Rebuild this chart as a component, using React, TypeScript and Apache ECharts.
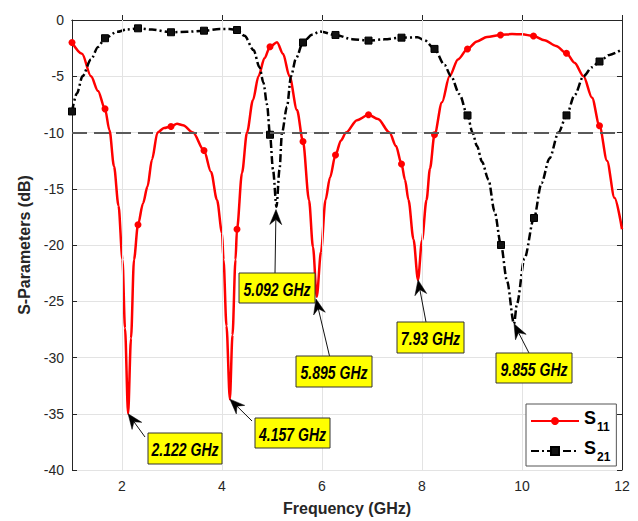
import React, { useEffect, useRef } from 'react';
import * as echarts from 'echarts';

// ---------------- data ----------------
const FREQ_S11 = [
  1.0, 1.2, 1.38, 1.52, 1.66, 1.75, 1.84, 1.93, 2.01, 2.06, 2.122, 2.18, 2.24, 2.32, 2.42, 2.51,
  2.6, 2.71, 2.84, 2.98, 3.1, 3.22, 3.42, 3.64, 3.78, 3.9, 4.0, 4.03, 4.09, 4.157, 4.21, 4.27,
  4.3, 4.4, 4.5, 4.62, 4.73, 4.85, 4.96, 5.1, 5.22, 5.35, 5.5, 5.62, 5.74, 5.82, 5.895, 5.98,
  6.07, 6.16, 6.27, 6.38, 6.48, 6.7, 6.93, 7.12, 7.35, 7.48, 7.59, 7.66, 7.73, 7.83, 7.92, 8.0,
  8.09, 8.16, 8.25, 8.4, 8.55, 8.72, 8.91, 9.1, 9.3, 9.57, 9.8, 10.0, 10.23, 10.45, 10.68, 10.89,
  11.05, 11.23, 11.4, 11.55, 11.7, 11.85, 12.0,
];
const S11_DB = [
  -2.0, -3.0, -5.0, -6.3, -7.9, -9.8, -13.0, -16.5, -21.3, -27.4, -35.0, -28.3, -21.3, -18.2, -16.3, -14.8,
  -12.4, -10.0, -9.6, -9.46, -9.22, -9.35, -10.0, -11.6, -13.5, -16.0, -18.9, -21.3, -27.2, -33.7, -28.0, -21.3,
  -18.6, -13.6, -10.0, -7.1, -5.0, -3.4, -2.37, -1.98, -3.0, -5.0, -8.0, -10.8, -16.0, -20.2, -24.6, -20.6,
  -16.0, -14.0, -12.0, -10.7, -10.0, -8.9, -8.42, -8.8, -10.0, -11.2, -12.8, -14.2, -16.0, -19.5, -23.1, -19.6,
  -16.0, -13.2, -10.2, -7.3, -5.0, -3.5, -2.57, -1.9, -1.5, -1.33, -1.25, -1.27, -1.42, -1.8, -2.3, -2.95,
  -3.8, -5.0, -6.9, -9.4, -12.5, -15.8, -18.6,
];
const FREQ_S21 = [
  1.0, 1.1, 1.21, 1.38, 1.52, 1.66, 1.9, 2.1, 2.32, 2.6, 2.98, 3.3, 3.64, 3.95, 4.15, 4.3,
  4.45, 4.63, 4.75, 4.83, 4.9, 4.96, 5.02, 5.09, 5.15, 5.2, 5.3, 5.38, 5.48, 5.62, 5.8, 5.96,
  6.27, 6.6, 6.93, 7.25, 7.59, 7.91, 8.05, 8.25, 8.45, 8.58, 8.75, 8.91, 9.01, 9.1, 9.2, 9.33,
  9.45, 9.58, 9.7, 9.84, 9.9, 10.05, 10.24, 10.39, 10.55, 10.73, 10.89, 11.05, 11.23, 11.4, 11.55, 11.75,
  12.0,
];
const S21_DB = [
  -8.13, -6.5, -5.0, -3.5, -2.4, -1.62, -1.05, -0.85, -0.74, -0.85, -1.09, -1.05, -0.95, -0.8, -0.8, -0.89,
  -1.4, -2.66, -4.2, -5.6, -7.5, -10.2, -13.3, -16.6, -13.3, -10.0, -7.7, -5.0, -3.4, -2.0, -1.3, -1.03,
  -1.33, -1.7, -1.83, -1.72, -1.57, -1.54, -1.8, -2.57, -4.0, -5.0, -6.6, -8.48, -10.0, -11.2, -12.6, -14.2,
  -17.0, -20.0, -23.2, -27.0, -25.2, -21.2, -17.6, -14.5, -12.3, -10.0, -8.48, -6.7, -5.0, -4.2, -3.69, -3.1,
  -2.6,
];
const MARKER_FREQS = [1.0, 1.66, 2.32, 2.98, 3.64, 4.3, 4.96, 5.62, 6.27, 6.93, 7.59, 8.25, 8.91, 9.57, 10.23, 10.89, 11.55];
const S21_MARKER_FREQS = [1.0, 1.66, 2.32, 2.98, 3.64, 4.3, 4.96, 5.62, 6.27, 6.93, 7.59, 8.25, 8.91, 9.58, 10.24, 10.89, 11.55];
const X_TICKS = [2, 4, 6, 8, 10, 12];
const THRESHOLD_DB = -10;

const RESONANCE_LABELS = ['2.122 GHz', '4.157 GHz', '5.092 GHz', '5.895 GHz', '7.93 GHz', '9.855 GHz'];
const RESONANCE_FREQ = [2.122, 4.157, 5.08, 5.88, 7.92, 9.84];
const RESONANCE_DB = [-35.0, -33.7, -16.85, -24.8, -23.1, -27.0];

// label box layout in pixels: [left, top, width, height, tailX, tailY]
const BOX_LAYOUT = [
  [148, 433, 74, 31, 145, 437],
  [255, 418, 75, 30, 252, 421],
  [239, 273, 76, 30, 275, 273],
  [296, 356, 76, 31, 329.5, 356],
  [397, 322, 67, 31, 426, 322],
  [496, 353, 76, 30, 529, 353],
];

const SANS = '"Liberation Sans", Arial, Helvetica, sans-serif';
const AXIS_COLOR = '#262626';
const GRID_COLOR = '#e3e3e3';

function buildData(freqs: number[], vals: number[], markers: number[]) {
  return freqs.map((f, i) => {
    const isMarker = markers.some((m) => Math.abs(m - f) < 1e-6);
    return isMarker ? { value: [f, vals[i]] } : { value: [f, vals[i]], symbol: 'none' };
  });
}

export default function App() {
  const ref = useRef<HTMLDivElement>(null);
  useEffect(() => {
    document.body.style.margin = '0';
    if (!ref.current) return;
    const chart = echarts.init(ref.current, undefined, { renderer: 'svg' });
    const option: any = {
      animation: false,
      backgroundColor: '#ffffff',
      grid: { left: 72, right: 16, top: 20, bottom: 50, containLabel: false },
      xAxis: [
        {
          type: 'value',
          min: 1,
          max: 12,
          name: 'Frequency (GHz)',
          nameLocation: 'middle',
          nameGap: 30,
          nameTextStyle: { fontFamily: SANS, fontSize: 16, fontWeight: 'bold', color: AXIS_COLOR },
          axisLine: { show: true, lineStyle: { color: AXIS_COLOR, width: 1 } },
          axisTick: { show: true, inside: true, length: 5, customValues: X_TICKS, lineStyle: { color: AXIS_COLOR } },
          axisLabel: { customValues: X_TICKS, margin: 9, fontFamily: SANS, fontSize: 14, color: AXIS_COLOR },
          splitLine: { show: false },
        },
        {
          type: 'value',
          position: 'top',
          min: 1,
          max: 12,
          axisLine: { show: true, lineStyle: { color: AXIS_COLOR, width: 1 } },
          axisTick: { show: true, inside: true, length: 5, customValues: X_TICKS, lineStyle: { color: AXIS_COLOR } },
          axisLabel: { show: false },
          splitLine: { show: false },
        },
      ],
      yAxis: [
        {
          type: 'value',
          min: -40,
          max: 0,
          interval: 5,
          name: 'S-Parameters (dB)',
          nameLocation: 'middle',
          nameGap: 40,
          nameTextStyle: { fontFamily: SANS, fontSize: 16, fontWeight: 'bold', color: AXIS_COLOR },
          axisLine: { show: true, lineStyle: { color: AXIS_COLOR, width: 1 } },
          axisTick: { show: true, inside: true, length: 5, lineStyle: { color: AXIS_COLOR } },
          axisLabel: { margin: 8, fontFamily: SANS, fontSize: 14, color: AXIS_COLOR },
          splitLine: { show: true, lineStyle: { color: GRID_COLOR, width: 1 } },
        },
        {
          type: 'value',
          position: 'right',
          min: -40,
          max: 0,
          interval: 5,
          axisLine: { show: true, lineStyle: { color: AXIS_COLOR, width: 1 } },
          axisTick: { show: true, inside: true, length: 5, lineStyle: { color: AXIS_COLOR } },
          axisLabel: { show: false },
          splitLine: { show: false },
        },
      ],
      legend: {
        show: true,
        left: 526,
        top: 404,
        orient: 'vertical',
        itemWidth: 48,
        itemHeight: 10,
        itemGap: 4,
        padding: [3, 6, 3, 4],
        backgroundColor: '#ffffff',
        borderColor: '#555555',
        borderWidth: 1,
        borderRadius: 0,
        data: ['S11', 'S21'],
        formatter: (name: string) => `{s|S}{sub|${name.substring(1)}}`,
        textStyle: {
          rich: {
            s: { fontFamily: SANS, fontSize: 18, fontWeight: 'bold', color: '#000', lineHeight: 24, verticalAlign: 'top' },
            sub: { fontFamily: SANS, fontSize: 12, fontWeight: 'bold', color: '#000', lineHeight: 24, verticalAlign: 'bottom', padding: [14, 0, 0, 1] },
          },
        },
      },
      series: [
        {
          name: 'grid-x',
          type: 'line',
          xAxisIndex: 0,
          yAxisIndex: 0,
          data: [],
          z: 0,
          silent: true,
          markLine: {
            silent: true,
            symbol: ['none', 'none'],
            label: { show: false },
            lineStyle: { color: GRID_COLOR, width: 1, type: 'solid' },
            data: X_TICKS.filter((t) => t < 12).map((t) => ({ xAxis: t })),
          },
        },
        {
          name: 'S11',
          type: 'line',
          xAxisIndex: 0,
          yAxisIndex: 0,
          smooth: 0.3,
          smoothMonotone: 'x',
          symbol: 'circle',
          symbolSize: 7,
          showAllSymbol: true,
          lineStyle: { color: '#ff0000', width: 2.5 },
          itemStyle: { color: '#ff0000' },
          data: buildData(FREQ_S11, S11_DB, MARKER_FREQS),
          z: 3,
          markLine: {
            silent: true,
            symbol: ['none', 'none'],
            label: { show: false },
            lineStyle: { color: '#5a5a5a', width: 2, type: [15, 7] },
            data: [{ yAxis: THRESHOLD_DB }],
          },
        },
        {
          name: 'S21',
          type: 'line',
          xAxisIndex: 0,
          yAxisIndex: 0,
          smooth: 0.3,
          smoothMonotone: 'x',
          symbol: 'rect',
          symbolSize: 7,
          showAllSymbol: true,
          lineStyle: { color: '#000000', width: 2.5, type: [8, 3, 2, 3] },
          itemStyle: { color: '#111111', borderColor: '#000000', borderWidth: 1 },
          data: buildData(FREQ_S21, S21_DB, S21_MARKER_FREQS),
          z: 4,
        },
      ],
    };
    chart.setOption(option);

    const graphics: any[] = [];
    RESONANCE_LABELS.forEach((label, i) => {
      const [bx, by, bw, bh, tx, ty] = BOX_LAYOUT[i];
      const tip = chart.convertToPixel({ gridIndex: 0 }, [RESONANCE_FREQ[i], RESONANCE_DB[i]]) as number[];
      const dx = tip[0] - tx;
      const dy = tip[1] - ty;
      const len = Math.sqrt(dx * dx + dy * dy);
      const ux = dx / len;
      const uy = dy / len;
      const nx = -uy;
      const ny = ux;
      const L = 15;
      const HW = 6;
      const N = 10;
      const notch = [tip[0] - ux * N, tip[1] - uy * N];
      graphics.push({
        type: 'line',
        shape: { x1: tx, y1: ty, x2: notch[0], y2: notch[1] },
        style: { stroke: '#111', lineWidth: 1 },
        z: 100,
      });
      graphics.push({
        type: 'polygon',
        shape: {
          points: [
            [tip[0], tip[1]],
            [tip[0] - ux * L + nx * HW, tip[1] - uy * L + ny * HW],
            notch,
            [tip[0] - ux * L - nx * HW, tip[1] - uy * L - ny * HW],
          ],
        },
        style: { fill: '#000', stroke: '#000', lineWidth: 0.5 },
        z: 100,
      });
      graphics.push({
        type: 'rect',
        shape: { x: bx, y: by, width: bw, height: bh },
        style: { fill: '#ffff00', stroke: '#333', lineWidth: 1 },
        z: 101,
      });
      graphics.push({
        type: 'text',
        x: bx + bw / 2,
        y: by + bh / 2 + 1,
        scaleX: 0.78,
        style: {
          text: label,
          fontFamily: SANS,
          fontSize: 18,
          fontWeight: 'bold',
          fontStyle: 'italic',
          fill: '#000',
          align: 'center',
          verticalAlign: 'middle',
        },
        z: 102,
      });
    });
    chart.setOption({ graphic: graphics });

    return () => {
      chart.dispose();
    };
  }, []);
  return <div ref={ref} style={{ width: 638, height: 521, position: 'absolute', left: 0, top: 0 }} />;
}
